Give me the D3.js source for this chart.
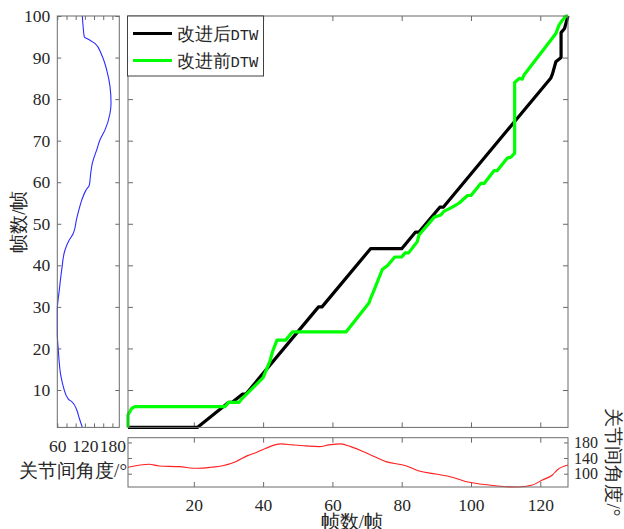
<!DOCTYPE html>
<html>
<head>
<meta charset="utf-8">
<script src="https://cdn.jsdelivr.net/npm/d3@7/dist/d3.min.js"></script>
<style>
  body { margin: 0; background: #fff; }
  svg { display: block; }
  text { font-family: 'Liberation Serif', serif; fill: #262626; }
</style>
</head>
<body>
<div id="chart"></div>
<script>
// ---- data ----
// warping path after improvement (frame of sequence A, frame of sequence B)
const pathAfterX = [1, 21, 30, 31, 34, 35, 56, 57, 71, 80, 84, 85, 91, 92, 123, 123.5, 124.5, 126, 126, 127, 128];
const pathAfterY = [1, 1, 7, 7, 9, 9, 30, 30, 44, 44, 48, 48, 54, 54, 85, 86, 89, 90, 96, 97, 100];
// warping path before improvement
const pathBeforeX = [1, 1, 2, 3, 29, 30, 33, 34, 40, 42, 42.7, 44, 46.5, 48.5, 64, 70.6, 71, 72, 74.4, 76, 78, 80, 81, 82, 84.5, 85, 89.4, 91.3, 92.2, 94.6, 95.6, 96.6, 99, 100, 102.8, 103.8, 106.7, 107.6, 110.5, 111.5, 112.6, 112.6, 114, 114.8, 115.3, 124.5, 125.4, 126.4, 127.4, 128];
const pathBeforeY = [1, 4, 5.5, 6, 6, 7, 7, 8, 13, 17, 19.2, 22, 22, 24, 24, 31, 32, 34, 39, 40, 42, 42, 43, 43, 45.7, 47.3, 51.6, 52.1, 53, 54, 54.5, 55, 56.8, 56.8, 59.7, 59.7, 62.8, 62.8, 65.8, 66, 67, 84, 85, 84.8, 85.8, 95.8, 97.8, 99, 100, 100];

// joint angle of sequence B (left panel), by frame
const leftFrames = [1, 3.2, 5.2, 7.2, 7.8, 10.8, 13.2, 19.6, 23.7, 29.3, 34.1, 38.9, 43.7, 45.7, 47.7, 51.3, 53.7, 55.7, 58.1, 59.3, 62.2, 64.6, 67.8, 70.2, 72.6, 76.6, 79, 83, 87, 90.6, 93.4, 94.4, 95, 97, 100];
const leftAngles = [114.5, 107.9, 102.3, 91.4, 84, 73.1, 68.1, 62.2, 60, 60, 64.4, 69.6, 76.8, 84, 94.9, 102.3, 107.9, 113.2, 122.5, 129.7, 132.8, 136.3, 145.8, 153, 163.9, 174.8, 177, 174.8, 167.6, 156.7, 142.1, 127.5, 118.8, 116.6, 114.5];

// joint angle of sequence A (bottom panel), by frame
const bottomFrames = [1, 7.1, 10, 15.8, 21, 24.9, 28.3, 32.1, 35.5, 37.9, 40.8, 45.1, 48.5, 52.3, 56.2, 59, 62.4, 65.3, 70.6, 75.4, 81.2, 85, 89.8, 94.6, 99.5, 105.2, 110, 113.5, 117.7, 120.6, 123.5, 124.9, 128];
const bottomAngles = [116.4, 124.1, 119.7, 118, 113.8, 116.4, 120.5, 130.8, 146.2, 153.8, 165.1, 176.2, 173.6, 171, 169.2, 173.6, 176.2, 169.2, 149.7, 130.8, 120.5, 106.9, 99.2, 90.8, 78, 71, 66.5, 66, 71, 83.8, 96.7, 109.5, 122];

const frameTicksX = [20, 40, 60, 80, 100, 120];
const frameTicksY = [10, 20, 30, 40, 50, 60, 70, 80, 90, 100];
const leftAngleTicks = [60, 80, 100, 120, 140, 160, 180];
const leftAngleLabels = [60, 120, 180];
const bottomAngleTicks = [100, 140, 180];

const seriesNames = ["改进后DTW", "改进前DTW"];
const frameLabel = "帧数/帧";
const angleLabel = "关节间角度/°";

// ---- layout ----
const W = 624, H = 529;
const main = { l: 128, r: 568, t: 16, b: 427.4 };
const left = { l: 57.3, r: 119.3 };
const bottom = { t: 437.7, b: 487 };
const axisColor = "#6b6b6b";
const serif = "'Liberation Serif', serif";

const svg = d3.select("#chart").append("svg")
  .attr("width", W).attr("height", H);

const x = d3.scaleLinear().domain([1, 128]).range([main.l, main.r]);
const y = d3.scaleLinear().domain([1, 100]).range([main.b, main.t]);
const xa = d3.scaleLinear().domain([60, 195]).range([left.l, left.r]);
const ya = d3.scaleLinear().domain([66, 192]).range([bottom.b, bottom.t]);

function frame(x0, y0, x1, y1) {
  svg.append("rect")
    .attr("x", x0).attr("y", y0)
    .attr("width", x1 - x0).attr("height", y1 - y0)
    .attr("fill", "none").attr("stroke", axisColor).attr("stroke-width", 1);
}

function styleAxis(g) {
  g.attr("font-family", serif).attr("font-size", 17.5);
  g.select(".domain").remove();
  g.selectAll(".tick line").attr("stroke", axisColor);
  g.selectAll(".tick text").attr("fill", "#262626").style("font-family", serif);
}

// ---- main panel ----
svg.append("g").attr("transform", `translate(0,${main.b})`)
  .call(d3.axisBottom(x).tickValues(frameTicksX).tickSizeInner(-5).tickSizeOuter(0).tickFormat(""))
  .call(styleAxis);
svg.append("g").attr("transform", `translate(0,${main.t})`)
  .call(d3.axisTop(x).tickValues(frameTicksX).tickSizeInner(-5).tickSizeOuter(0).tickFormat(""))
  .call(styleAxis);
svg.append("g").attr("transform", `translate(${main.l},0)`)
  .call(d3.axisLeft(y).tickValues(frameTicksY).tickSizeInner(-5).tickSizeOuter(0).tickFormat(""))
  .call(styleAxis);
svg.append("g").attr("transform", `translate(${main.r},0)`)
  .call(d3.axisRight(y).tickValues(frameTicksY).tickSizeInner(-5).tickSizeOuter(0).tickFormat(""))
  .call(styleAxis);

const pathLine = d3.line().x(d => x(d[0])).y(d => y(d[1]));
const after = d3.zip(pathAfterX, pathAfterY);
const before = d3.zip(pathBeforeX, pathBeforeY);

svg.append("path").datum(after)
  .attr("d", pathLine)
  .attr("fill", "none").attr("stroke", "#000").attr("stroke-width", 3.2)
  .attr("stroke-linejoin", "round");
svg.append("path").datum(before)
  .attr("d", pathLine)
  .attr("fill", "none").attr("stroke", "#00ff00").attr("stroke-width", 3.2)
  .attr("stroke-linejoin", "round");

frame(main.l, main.t, main.r, main.b);

// legend
const legend = svg.append("g");
legend.append("rect")
  .attr("x", 127.5).attr("y", 16).attr("width", 136).attr("height", 60)
  .attr("fill", "#fff").attr("stroke", "#404040").attr("stroke-width", 1);
const legendColors = ["#000", "#00ff00"];
seriesNames.forEach((name, i) => {
  const cy = 33.5 + i * 27;
  legend.append("line")
    .attr("x1", 133).attr("x2", 172).attr("y1", cy).attr("y2", cy)
    .attr("stroke", legendColors[i]).attr("stroke-width", 3.2);
  const t = legend.append("text")
    .attr("x", 176.5).attr("y", cy).attr("dy", "0.35em")
    .style("font-size", "17.5px");
  t.append("tspan").text(name.slice(0, 3));
  t.append("tspan").style("font-family", "'Liberation Mono', monospace").style("font-size", "15.5px")
    .text(name.slice(3));
});

// ---- left panel (sequence B angle vs frame) ----
svg.append("g").attr("transform", `translate(${left.l},0)`)
  .call(d3.axisLeft(y).tickValues(frameTicksY).tickSizeInner(-4).tickSizeOuter(0).tickPadding(7))
  .call(styleAxis);
svg.append("g").attr("transform", `translate(${left.r},0)`)
  .call(d3.axisRight(y).tickValues(frameTicksY).tickSizeInner(-4).tickSizeOuter(0).tickFormat(""))
  .call(styleAxis);
svg.append("g").attr("transform", `translate(0,${main.t})`)
  .call(d3.axisTop(xa).tickValues(leftAngleTicks).tickSizeInner(-4).tickSizeOuter(0).tickFormat(""))
  .call(styleAxis);
svg.append("g").attr("transform", `translate(0,${main.b})`)
  .call(d3.axisBottom(xa).tickValues(leftAngleTicks).tickSizeInner(-4).tickSizeOuter(0)
    .tickPadding(12).tickFormat(d => leftAngleLabels.includes(d) ? d : ""))
  .call(styleAxis);

svg.append("path").datum(d3.zip(leftAngles, leftFrames))
  .attr("d", d3.line().x(d => xa(d[0])).y(d => y(d[1])).curve(d3.curveMonotoneY))
  .attr("fill", "none").attr("stroke", "#2b2bff").attr("stroke-width", 1.1);

frame(left.l, main.t, left.r, main.b);

svg.append("text")
  .attr("transform", `translate(18,${(main.t + main.b) / 2}) rotate(-90)`)
  .attr("text-anchor", "middle").attr("dy", "0.35em")
  .style("font-size", "19px").text(frameLabel);
svg.append("text")
  .attr("x", 127).attr("y", 470).attr("dy", "0.35em")
  .attr("text-anchor", "end")
  .style("font-size", "19px").text(angleLabel);

// ---- bottom panel (sequence A angle vs frame) ----
svg.append("g").attr("transform", `translate(0,${bottom.b})`)
  .call(d3.axisBottom(x).tickValues(frameTicksX).tickSizeInner(-5).tickSizeOuter(0).tickPadding(12))
  .call(styleAxis);
svg.append("g").attr("transform", `translate(0,${bottom.t})`)
  .call(d3.axisTop(x).tickValues(frameTicksX).tickSizeInner(-5).tickSizeOuter(0).tickFormat(""))
  .call(styleAxis);
svg.append("g").attr("transform", `translate(${main.l},0)`)
  .call(d3.axisLeft(ya).tickValues(bottomAngleTicks).tickSizeInner(-4).tickSizeOuter(0).tickFormat(""))
  .call(styleAxis);
const rightAxis = svg.append("g").attr("transform", `translate(${main.r},0)`)
  .call(d3.axisRight(ya).tickValues(bottomAngleTicks).tickSizeInner(-4).tickSizeOuter(0).tickPadding(6))
  .call(styleAxis);
rightAxis.selectAll(".tick text").style("font-size", "16px");

svg.append("path").datum(d3.zip(bottomFrames, bottomAngles))
  .attr("d", d3.line().x(d => x(d[0])).y(d => ya(d[1])).curve(d3.curveMonotoneX))
  .attr("fill", "none").attr("stroke", "#ff2020").attr("stroke-width", 1.1);

frame(main.l, bottom.t, main.r, bottom.b);

svg.append("text")
  .attr("x", (main.l + main.r) / 2 + 4).attr("y", 521).attr("dy", "0.35em")
  .attr("text-anchor", "middle")
  .style("font-size", "19px").text(frameLabel);
svg.append("text")
  .attr("transform", `translate(614,${(bottom.t + bottom.b) / 2}) rotate(90)`)
  .attr("text-anchor", "middle").attr("dy", "0.35em")
  .style("font-size", "19px").text(angleLabel);
</script>
</body>
</html>
